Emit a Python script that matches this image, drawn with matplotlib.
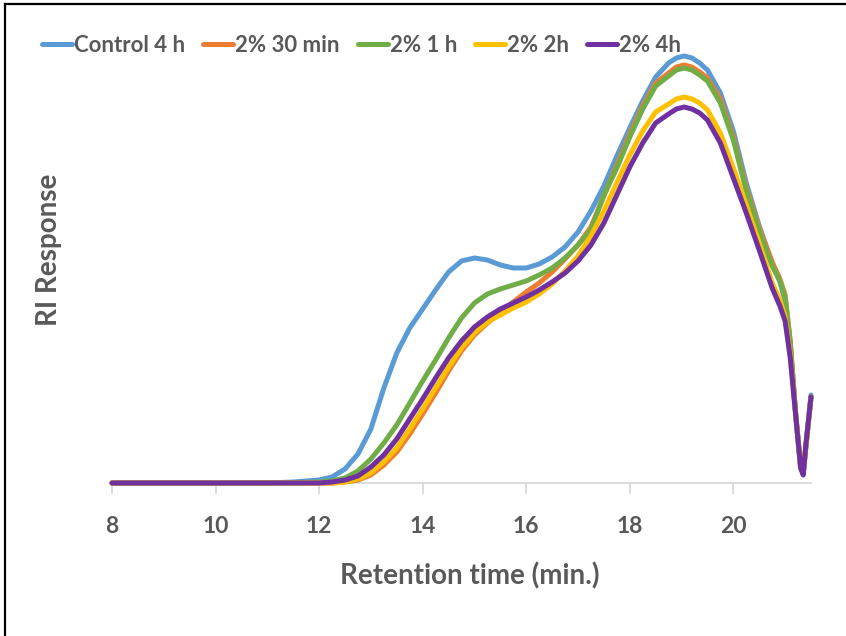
import matplotlib
matplotlib.use("Agg")
import matplotlib.pyplot as plt
from matplotlib.lines import Line2D

plt.rcParams['font.family'] = ['Lato', 'DejaVu Sans']

# retention time grid (min)
t = [8, 11, 11.5, 12, 12.25, 12.5, 12.75, 13, 13.25, 13.5, 13.75, 14, 14.25, 14.5,
     14.75, 15, 15.25, 15.5, 15.75, 16, 16.25, 16.5, 16.75, 17, 17.25, 17.5, 17.75,
     18, 18.25, 18.5, 18.75, 18.9, 19.05, 19.2, 19.35, 19.5, 19.75, 20, 20.25, 20.5,
     20.75, 20.9, 21.0, 21.1, 21.2, 21.3, 21.35, 21.4, 21.5]

control_4h = [0, 0, 1, 3, 6, 14, 29, 54, 95, 130, 155, 174, 193, 211,
              222, 225, 223, 218, 215, 215, 219, 226, 236, 251, 272, 297, 327,
              355, 382, 406, 420, 425, 427, 425, 420, 413, 390, 352, 300, 257,
              220, 201, 182, 138, 72, 16, 10, 36, 88]

p2_30min = [0, 0, 0, 0, 0, 1, 3, 8, 18, 31, 49, 69, 90, 112,
            132, 148, 160, 170, 181, 191, 200, 211, 224, 238, 256, 287, 318,
            349, 377, 400, 410, 416, 418, 416, 411, 405, 384, 346, 295, 255,
            221, 204, 188, 142, 72, 16, 10, 36, 86]

p2_1h = [0, 0, 0, 1, 2, 5, 12, 24, 40, 58, 80, 102, 123, 145,
         165, 180, 189, 194, 198, 202, 208, 215, 225, 238, 253, 288, 315,
         346, 374, 397, 407, 413, 415, 413, 408, 402, 380, 343, 292, 252,
         217, 202, 185, 140, 70, 15, 10, 35, 86]

p2_2h = [0, 0, 0, 0, 0, 1, 4, 10, 21, 35, 54, 74, 95, 116,
         135, 150, 161, 168, 175, 181, 189, 199, 212, 227, 247, 272, 300,
         328, 352, 371, 379, 384, 386, 384, 380, 373, 350, 315, 278, 240,
         200, 183, 166, 128, 70, 15, 9, 37, 86]

p2_4h = [0, 0, 0, 0, 1, 3, 7, 16, 28, 44, 64, 84, 105, 125,
         142, 156, 166, 174, 180, 186, 193, 201, 210, 222, 238, 260, 288,
         316, 340, 360, 369, 374, 376, 374, 370, 363, 340, 305, 270, 233,
         195, 177, 162, 125, 70, 15, 8, 38, 86]

series = [("Control 4 h", control_4h, "#5B9BD5"),
          ("2% 30 min", p2_30min, "#ED7D31"),
          ("2% 1 h", p2_1h, "#70AD47"),
          ("2% 2h", p2_2h, "#FFC000"),
          ("2% 4h", p2_4h, "#7030A0")]

grey = "#595959"

fig = plt.figure(figsize=(8.46, 6.36), dpi=100)
ax = fig.add_axes([112 / 846, 1 - 483 / 636, (811 - 112) / 846, (483 - 38) / 636])

for name, vals, col in series:
    ax.plot(t, vals, color=col, lw=3.6, label=name, solid_joinstyle='round',
            solid_capstyle='round', clip_on=False)

ax.set_xlim(8, 21.5)
ax.set_ylim(0, 445)
ax.set_xticks([8, 10, 12, 14, 16, 18, 20])
ax.set_yticks([])
for s in ['top', 'right', 'left']:
    ax.spines[s].set_visible(False)
ax.spines['bottom'].set_color("#D9D9D9")
ax.spines['bottom'].set_linewidth(1.3)
ax.spines['bottom'].set_zorder(0)
ax.tick_params(axis='x', direction='out', length=8, width=1.3, color="#D9D9D9",
               pad=16, labelsize=16.5, labelcolor=grey)
for lab in ax.get_xticklabels():
    lab.set_fontweight('bold')

ax.set_xlabel("Retention time (min.)", fontsize=20, fontweight='bold', color=grey)
ax.xaxis.set_label_coords((470 - 112) / (811 - 112), -(562 - 483) / (483 - 38))
ax.set_ylabel("RI Response", fontsize=20, fontweight='bold', color=grey)
ax.yaxis.set_label_coords(-(112 - 62) / (811 - 112), (483 - 250) / (483 - 38))

leg = fig.legend(loc='center left', bbox_to_anchor=(33 / 846, 1 - 45 / 636), ncol=5,
                 frameon=False, handlelength=1.35, handletextpad=0.1,
                 columnspacing=0.8, borderaxespad=0,
                 prop={'weight': 'bold', 'size': 16})
for txt in leg.get_texts():
    txt.set_color(grey)

# frame border (top and left visible in the reference)
fig.add_artist(Line2D([5 / 846, 5 / 846], [0, 1 - 4 / 636], transform=fig.transFigure,
                      color='black', lw=1.6))
fig.add_artist(Line2D([5 / 846, 1], [1 - 4 / 636, 1 - 4 / 636], transform=fig.transFigure,
                      color='black', lw=1.6))

fig.savefig("out.png", dpi=100)
